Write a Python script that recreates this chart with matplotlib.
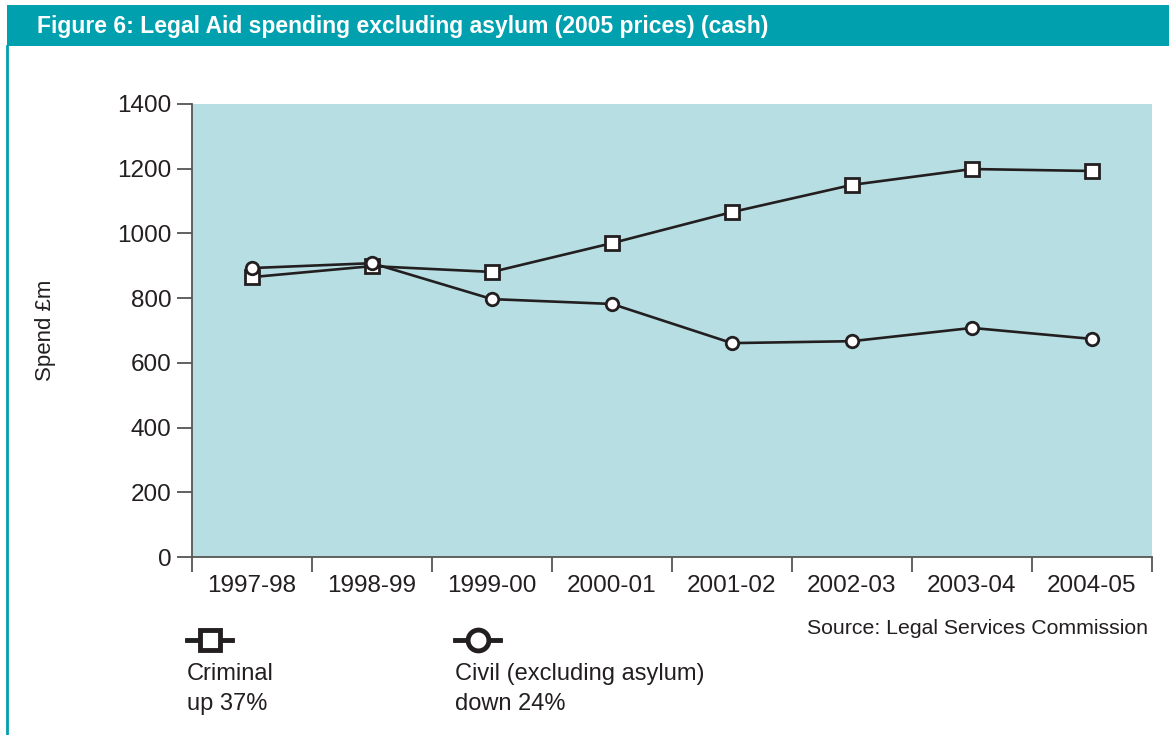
import matplotlib.pyplot as plt
from matplotlib.lines import Line2D
from matplotlib.patches import Rectangle

plt.rcParams['font.family'] = ['Liberation Sans', 'DejaVu Sans']

years = ['1997-98', '1998-99', '1999-00', '2000-01', '2001-02', '2002-03', '2003-04', '2004-05']
criminal = [865, 899, 881, 970, 1066, 1150, 1199, 1193]
civil = [893, 908, 797, 782, 661, 667, 708, 674]
yticks = [0, 200, 400, 600, 800, 1000, 1200, 1400]

teal = '#00A0AE'
ink = '#231F20'
grey = '#555555'

fig = plt.figure(figsize=(11.69, 7.35), dpi=100)

# header band and left border
fig.add_artist(Rectangle((7 / 1169, 1 - 46 / 735), 1, 41 / 735, transform=fig.transFigure,
                         facecolor=teal, edgecolor='none'))
fig.add_artist(Line2D([7 / 1169, 7 / 1169], [0, 1 - 46 / 735], transform=fig.transFigure,
                      color=teal, lw=2))
fig.text(37 / 1169, 1 - 27 / 735, 'Figure 6: Legal Aid spending excluding asylum (2005 prices) (cash)',
         color='white', fontsize=16.5, fontweight='bold', va='center', ha='left')

ax = fig.add_axes([192 / 1169, 178 / 735, 960 / 1169, 453 / 735])
ax.set_facecolor('#B7DFE3')
x = list(range(len(years)))
ax.plot(x, criminal, color=ink, lw=1.9, marker='s', ms=9.5, mfc='white', mec=ink, mew=2)
ax.plot(x, civil, color=ink, lw=1.9, marker='o', ms=9, mfc='white', mec=ink, mew=2)

ax.set_xlim(-0.5, len(years) - 0.5)
ax.set_ylim(0, 1400)
ax.set_yticks(yticks)
ax.set_xticks(x)
ax.set_xticklabels(years)
ax.set_xticks([i - 0.5 for i in range(len(years) + 1)], minor=True)
ax.tick_params(axis='x', which='major', length=0, pad=13, labelsize=17.5, labelcolor=ink)
ax.tick_params(axis='x', which='minor', length=11, width=1.3, color=grey, direction='out')
ax.tick_params(axis='y', length=11, width=1.3, color=grey, pad=4, labelsize=17.5, labelcolor=ink)
for s in ['top', 'right']:
    ax.spines[s].set_visible(False)
ax.spines['left'].set_color(grey)
ax.spines['left'].set_linewidth(1.3)
ax.spines['bottom'].set_color(grey)
ax.spines['bottom'].set_linewidth(1.3)
ax.set_ylabel('Spend £m', fontsize=16, color=ink, labelpad=44)

fig.text(1148 / 1169, 1 - 628 / 735, 'Source: Legal Services Commission', fontsize=15.3,
         color=ink, ha='right', va='center')

# legend keys
def key(x0, x1, y, marker, ms):
    fig.add_artist(Line2D([x0 / 1169, x1 / 1169], [1 - y / 735, 1 - y / 735],
                          transform=fig.transFigure, color=ink, lw=3.5))
    fig.add_artist(Line2D([(x0 + x1) / 2 / 1169], [1 - y / 735], transform=fig.transFigure,
                          marker=marker, ms=ms, mfc='white', mec=ink, mew=3.5, lw=0))

key(187, 232, 640, 's', 15)
key(455, 500, 640, 'o', 15)
fig.text(187 / 1169, 1 - 689 / 735, 'Criminal\nup 37%', fontsize=17, color=ink,
         ha='left', va='center', linespacing=1.45)
fig.text(455 / 1169, 1 - 689 / 735, 'Civil (excluding asylum)\ndown 24%', fontsize=17, color=ink,
         ha='left', va='center', linespacing=1.45)

fig.savefig('out.png', dpi=100)
